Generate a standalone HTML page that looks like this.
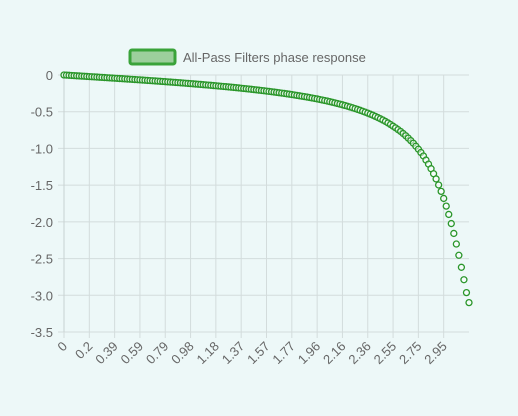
<!DOCTYPE html>
<html><head><meta charset="utf-8"><style>
html,body{margin:0;padding:0;background:#edf8f8;}
svg{display:block;font-family:"Liberation Sans",sans-serif;}
</style></head><body>
<svg id="chart" width="518" height="416" viewBox="0 0 518 416" xmlns="http://www.w3.org/2000/svg">
<rect x="0" y="0" width="518" height="416" fill="#edf8f8"/>
<g id="legend">
<rect x="130" y="50" width="45" height="14" fill="#9ccf9c" stroke="#3aa33a" stroke-width="3" rx="2"/>
<text x="183" y="62" font-size="13" fill="#666">All-Pass Filters phase response</text>
</g>
<g id="grid"></g>
<g id="points"></g>
</svg>
<script>
const xLabels = ["0","0.2","0.39","0.59","0.79","0.98","1.18","1.37","1.57","1.77","1.96","2.16","2.36","2.55","2.75","2.95"];
const yTicks = [0,-0.5,-1.0,-1.5,-2.0,-2.5,-3.0,-3.5];
const yTickLabels = ["0","-0.5","-1.0","-1.5","-2.0","-2.5","-3.0","-3.5"];
const phaseValues = [0,-0.0022,-0.0043,-0.0065,-0.0086,-0.0108,-0.013,-0.0152,-0.0173,-0.0195,
-0.0217,-0.0239,-0.026,-0.0282,-0.0304,-0.0326,-0.0348,-0.037,-0.0393,-0.0415,
-0.0438,-0.046,-0.0483,-0.0505,-0.0528,-0.0551,-0.0574,-0.0597,-0.062,-0.0643,
-0.0667,-0.069,-0.0714,-0.0738,-0.0763,-0.0787,-0.0811,-0.0836,-0.0861,-0.0886,
-0.0911,-0.0936,-0.0962,-0.0988,-0.1014,-0.104,-0.1066,-0.1093,-0.112,-0.1147,
-0.1175,-0.1203,-0.1231,-0.1259,-0.1288,-0.1317,-0.1346,-0.1376,-0.1407,-0.1437,
-0.1468,-0.1499,-0.1531,-0.1563,-0.1595,-0.1628,-0.1662,-0.1696,-0.173,-0.1765,
-0.18,-0.1837,-0.1874,-0.1911,-0.1949,-0.1988,-0.2027,-0.2067,-0.2108,-0.2149,
-0.2191,-0.2234,-0.2278,-0.2323,-0.2369,-0.2416,-0.2464,-0.2513,-0.2562,-0.2613,
-0.2665,-0.2721,-0.2778,-0.2833,-0.2889,-0.2946,-0.3005,-0.3067,-0.313,-0.3196,
-0.3263,-0.3333,-0.3404,-0.3477,-0.3552,-0.363,-0.3709,-0.3793,-0.3879,-0.3968,
-0.4059,-0.4154,-0.4253,-0.4357,-0.4464,-0.4575,-0.469,-0.481,-0.4934,-0.5061,
-0.5192,-0.5334,-0.5476,-0.5634,-0.5796,-0.5964,-0.6132,-0.6326,-0.653,-0.6744,
-0.6974,-0.7198,-0.7442,-0.7692,-0.7976,-0.8272,-0.8596,-0.8938,-0.9292,-0.9694,
-1.0102,-1.0554,-1.1028,-1.1584,-1.2134,-1.276,-1.3444,-1.4154,-1.4976,-1.585,
-1.6812,-1.786,-1.8988,-2.023,-2.158,-2.302,-2.4552,-2.619,-2.788,-2.964,-3.1];
const labelEvery = 10;

const NS="http://www.w3.org/2000/svg";
const X0=64,X1=469,Y0=75,Y1=332,YMIN=-3.5,YMAX=0;
const n=phaseValues.length;
function xPos(i){return X0+(X1-X0)*i/(n-1);}
function yPos(v){return Y0+(YMAX-v)/(YMAX-YMIN)*(Y1-Y0);}
function mk(tag,attrs,parent){const e=document.createElementNS(NS,tag);for(const k in attrs)e.setAttribute(k,attrs[k]);parent.appendChild(e);return e;}
const grid=document.getElementById('grid');
yTicks.forEach((t,i)=>{
  const y=yPos(t);
  const l=mk('line',{x1:X0-6,x2:X1,y1:y,y2:y,stroke:'#d3dcdc','stroke-width':1},grid);
  
  
  const tx=mk('text',{x:X0-11,y:y+5,'text-anchor':'end','font-size':13,fill:'#666'},grid);
  tx.textContent=yTickLabels[i];
  
  
});
xLabels.forEach((lab,i)=>{
  const x=xPos(i*labelEvery);
  const l=mk('line',{x1:x,x2:x,y1:Y0,y2:Y1+6,stroke:'#d3dcdc','stroke-width':1},grid);
  
  
  const tx=mk('text',{x:0,y:0,'text-anchor':'end','font-size':13,fill:'#666',transform:`translate(${x+4},${Y1+15}) rotate(-45)`},grid);
  tx.textContent=lab;
  
  
});
const la=mk('line',{x1:X0,x2:X0,y1:Y0,y2:Y1,stroke:'#c8d2d2','stroke-width':1},grid);


const pts=document.getElementById('points');
phaseValues.forEach((v,i)=>{
  const c=mk('circle',{cx:xPos(i),cy:yPos(v),r:3,fill:'rgba(255,255,255,0.5)',stroke:'#2a962a','stroke-width':1.3},pts);
  
  
});
</script>
</body></html>
